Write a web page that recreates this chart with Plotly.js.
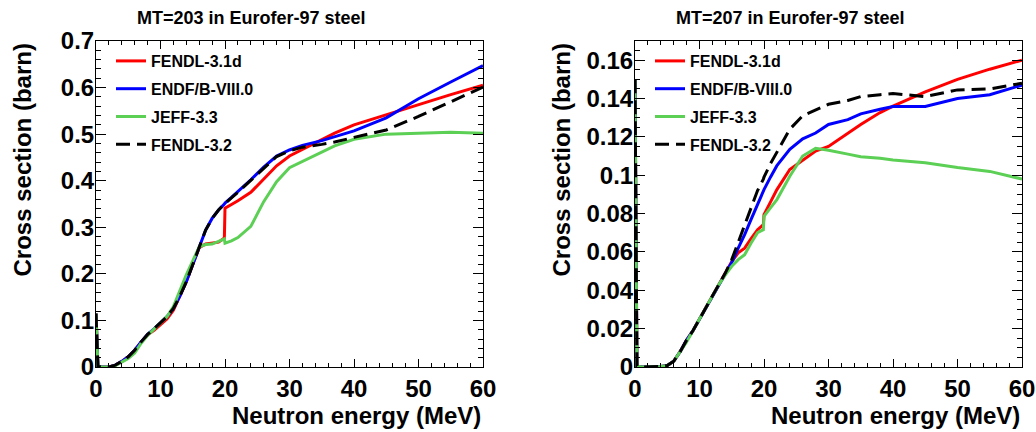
<!DOCTYPE html>
<html>
<head>
<meta charset="utf-8">
<script src="https://cdn.plot.ly/plotly-3.0.1.min.js"></script>
<style>
  html, body { margin: 0; padding: 0; background: #ffffff; }
  #chart { width: 1036px; height: 432px; }
</style>
</head>
<body>
<div id="chart"></div>
<script>
// Library names, shared by both panels
const libraries = ["FENDL-3.1d", "ENDF/B-VIII.0", "JEFF-3.3", "FENDL-3.2"];

// MT=203 (proton production) — energy grid in MeV and cross sections in barn
const energyMT203 = [0, 0.3, 1, 2, 3, 4, 5, 6, 7, 8, 9, 10, 11, 12, 13, 14, 15, 16, 17, 18, 19, 19.9, 20, 21, 22, 24, 26, 28, 30, 32, 35, 37, 40, 45, 50, 55, 60];
const fendl31dMT203 = [0.115, 0.001, 0, 0, 0.004, 0.012, 0.022, 0.036, 0.054, 0.069, 0.079, 0.09, 0.103, 0.122, 0.152, 0.183, 0.22, 0.256, 0.264, 0.266, 0.268, 0.277, 0.341, 0.349, 0.357, 0.375, 0.403, 0.432, 0.453, 0.467, 0.488, 0.502, 0.52, 0.542, 0.563, 0.585, 0.605];
const endfb80MT203 = [0.115, 0.001, 0, 0, 0.004, 0.012, 0.022, 0.036, 0.054, 0.07, 0.082, 0.094, 0.108, 0.126, 0.152, 0.183, 0.22, 0.258, 0.294, 0.319, 0.337, 0.35, 0.352, 0.364, 0.376, 0.402, 0.429, 0.453, 0.466, 0.476, 0.486, 0.494, 0.507, 0.535, 0.576, 0.612, 0.647];
const jeff33MT203 = [0.115, 0.001, 0, 0, 0.003, 0.01, 0.018, 0.03, 0.051, 0.068, 0.082, 0.094, 0.108, 0.13, 0.165, 0.198, 0.228, 0.258, 0.263, 0.264, 0.27, 0.275, 0.266, 0.271, 0.278, 0.302, 0.355, 0.398, 0.428, 0.441, 0.462, 0.475, 0.489, 0.5, 0.502, 0.504, 0.502];
const fendl32MT203 = [0.115, 0.001, 0, 0, 0.004, 0.012, 0.022, 0.036, 0.054, 0.07, 0.082, 0.094, 0.108, 0.126, 0.152, 0.183, 0.22, 0.258, 0.294, 0.319, 0.337, 0.35, 0.351, 0.363, 0.375, 0.401, 0.428, 0.452, 0.464, 0.472, 0.478, 0.483, 0.493, 0.509, 0.538, 0.57, 0.601];

// MT=207 (alpha production) — energy grid in MeV and cross sections in barn
const energyMT207 = [0, 0.3, 1, 2, 3, 4, 5, 6, 7, 8, 9, 10, 11, 12, 13, 14, 15, 16, 17, 18, 19, 19.9, 20, 21, 22, 24, 26, 28, 30, 33, 35, 38, 40, 45, 50, 55, 60];
const fendl31dMT207 = [0.15, 0.0005, 0, 0, 0, 0.0003, 0.0008, 0.003, 0.008, 0.014, 0.019, 0.025, 0.031, 0.037, 0.043, 0.049, 0.055, 0.0595, 0.062, 0.067, 0.0716, 0.0742, 0.0795, 0.086, 0.0925, 0.103, 0.108, 0.1126, 0.115, 0.122, 0.1265, 0.1327, 0.136, 0.1435, 0.15, 0.1553, 0.16];
const endfb80MT207 = [0.15, 0.0005, 0, 0, 0, 0.0003, 0.0008, 0.003, 0.008, 0.014, 0.019, 0.025, 0.031, 0.037, 0.043, 0.049, 0.0545, 0.062, 0.069, 0.077, 0.085, 0.092, 0.0925, 0.099, 0.105, 0.1135, 0.119, 0.122, 0.1265, 0.129, 0.132, 0.1344, 0.1358, 0.1358, 0.14, 0.142, 0.147];
const jeff33MT207 = [0.15, 0.0005, 0, 0, 0, 0.0003, 0.0008, 0.003, 0.008, 0.013, 0.019, 0.025, 0.031, 0.037, 0.043, 0.048, 0.0525, 0.056, 0.0586, 0.0647, 0.07, 0.0716, 0.0786, 0.083, 0.0873, 0.0995, 0.11, 0.114, 0.113, 0.111, 0.1096, 0.1088, 0.108, 0.1065, 0.104, 0.102, 0.098];
const fendl32MT207 = [0.15, 0.0005, 0, 0, 0, 0.0003, 0.0008, 0.003, 0.008, 0.014, 0.019, 0.025, 0.031, 0.037, 0.043, 0.049, 0.056, 0.065, 0.074, 0.083, 0.092, 0.098, 0.099, 0.106, 0.112, 0.124, 0.131, 0.134, 0.137, 0.139, 0.141, 0.142, 0.1426, 0.141, 0.1445, 0.145, 0.148];

// Panel titles and axis labels
const panelTitles = ["MT=203 in Eurofer-97 steel", "MT=207 in Eurofer-97 steel"];
const xLabel = "Neutron energy (MeV)";
const yLabel = "Cross section (barn)";

const colors = ["#ff0000", "#0000ff", "#5ccf55", "#000000"];
const dashes = ["solid", "solid", "solid", "14px,7px"];

const FONT = "Liberation Sans, Arial, Helvetica, sans-serif";

function makeTraces(energy, seriesList, xa, ya, legendId) {
  return seriesList.map((vals, i) => ({
    type: "scatter",
    mode: "lines",
    x: energy,
    y: vals,
    name: libraries[i],
    xaxis: xa,
    yaxis: ya,
    legend: legendId,
    legendgroup: legendId + "-" + i,
    line: { color: colors[i], width: 3, dash: dashes[i] },
    hoverinfo: "skip"
  }));
}

const traces = [].concat(
  makeTraces(energyMT203, [fendl31dMT203, endfb80MT203, jeff33MT203, fendl32MT203], "x", "y", "legend"),
  makeTraces(energyMT207, [fendl31dMT207, endfb80MT207, jeff33MT207, fendl32MT207], "x2", "y2", "legend2")
);

const W = 1036, H = 432;
const px = v => v / W;
const py = v => 1 - v / H;

const tickFont = { family: FONT, size: 24, weight: "bold", color: "#000" };

function xAxis(domain, anchor) {
  return {
    domain: domain, anchor: anchor, range: [0, 60], autorange: false,
    tick0: 0, dtick: 10, ticks: "inside", ticklen: 8, tickwidth: 1, tickcolor: "#000",
    minor: { dtick: 2, ticks: "inside", ticklen: 4, tickwidth: 1, tickcolor: "#000" },
    showline: true, linecolor: "#000", linewidth: 1, mirror: "allticks",
    showgrid: false, zeroline: false, tickfont: tickFont
  };
}
function yAxis(anchor, range, dtick, minorDtick) {
  return {
    domain: [1 - 367 / H, 1 - 41 / H], anchor: anchor, range: range, autorange: false,
    tick0: 0, dtick: dtick, ticks: "inside", ticklen: 10, tickwidth: 1, tickcolor: "#000",
    minor: { dtick: minorDtick, ticks: "inside", ticklen: 5, tickwidth: 1, tickcolor: "#000" },
    showline: true, linecolor: "#000", linewidth: 1, mirror: "allticks",
    showgrid: false, zeroline: false, tickfont: tickFont, ticklabelstandoff: -4
  };
}

const legendStyle = (x) => ({
  x: x, y: py(44), xanchor: "left", yanchor: "top",
  bgcolor: "rgba(0,0,0,0)", borderwidth: 0,
  font: { family: FONT, size: 16, weight: "bold", color: "#000" },
  traceorder: "grouped", tracegroupgap: 4
});

const titleFont = { family: FONT, size: 18, weight: "bold", color: "#000" };
const labelFont = { family: FONT, size: 24, weight: "bold", color: "#000" };

const annotations = [
  { text: panelTitles[0], x: px(251), y: py(18), xanchor: "center", yanchor: "middle", font: titleFont },
  { text: panelTitles[1], x: px(790), y: py(18), xanchor: "center", yanchor: "middle", font: titleFont },
  { text: xLabel, x: px(483), y: py(415), xanchor: "right", yanchor: "middle", font: labelFont },
  { text: xLabel, x: px(1022), y: py(415), xanchor: "right", yanchor: "middle", font: labelFont },
  { text: yLabel, x: px(22), y: py(42), xanchor: "center", yanchor: "top", textangle: -90, font: labelFont },
  { text: yLabel, x: px(561), y: py(42), xanchor: "center", yanchor: "top", textangle: -90, font: labelFont }
].map(a => Object.assign({ xref: "paper", yref: "paper", showarrow: false }, a));

const layout = {
  width: W, height: H,
  margin: { l: 0, r: 0, t: 0, b: 0 },
  paper_bgcolor: "#ffffff", plot_bgcolor: "#ffffff",
  showlegend: true,
  xaxis: xAxis([px(96), px(483)], "y"),
  yaxis: yAxis("x", [0, 0.7], 0.1, 0.02),
  xaxis2: xAxis([px(635), px(1022)], "y2"),
  yaxis2: yAxis("x2", [0, 0.17], 0.02, 0.005),
  legend: legendStyle(px(111)),
  legend2: legendStyle(px(650)),
  annotations: annotations
};

Plotly.newPlot("chart", traces, layout, { staticPlot: true, displayModeBar: false });
</script>
</body>
</html>
